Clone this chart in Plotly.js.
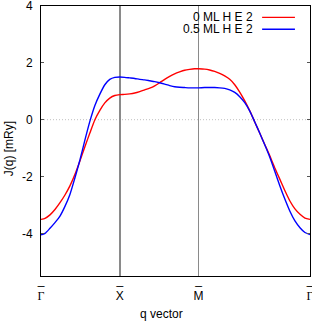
<!DOCTYPE html>
<html>
<head>
<meta charset="utf-8">
<script src="https://cdn.plot.ly/plotly-3.0.1.min.js"></script>
<style>html,body{margin:0;padding:0;background:#fff;}#chart{width:312px;height:324px;}</style>
</head>
<body>
<div id="chart"></div>
<script>
// high-symmetry points along the path
var kPoints = [0, 1, 2, 3.414];
var kLabels = ['Γ', 'X', 'M', 'Γ'];
// q path coordinate
var q = [0, 0.051, 0.114, 0.177, 0.241, 0.304, 0.367, 0.430, 0.494, 0.557, 0.620, 0.684, 0.747, 0.810, 0.873, 0.937, 1.0,
  1.063, 1.127, 1.190, 1.253, 1.316, 1.380, 1.443, 1.506, 1.570, 1.633, 1.696, 1.759, 1.823, 1.886, 1.949, 2.0,
  2.076, 2.140, 2.204, 2.268, 2.331, 2.395, 2.459, 2.522, 2.586, 2.650, 2.713, 2.777, 2.841, 2.904, 2.968, 3.032, 3.096, 3.159, 3.223, 3.287, 3.350, 3.414];
var seriesNames = ['0 ML H E 2', '0.5 ML H E 2'];
var J0 = [-3.51, -3.47, -3.35, -3.16, -2.92, -2.65, -2.33, -1.93, -1.45, -0.95, -0.47, 0.00, 0.33, 0.59, 0.76, 0.85, 0.88,
  0.89, 0.91, 0.94, 0.99, 1.05, 1.11, 1.19, 1.30, 1.42, 1.52, 1.61, 1.68, 1.74, 1.77, 1.79, 1.79,
  1.78, 1.75, 1.70, 1.63, 1.54, 1.42, 1.23, 0.97, 0.66, 0.31, -0.08, -0.48, -0.88, -1.27, -1.70, -2.10, -2.50, -2.86, -3.14, -3.33, -3.46, -3.51];
var J05 = [-4.05, -4.00, -3.82, -3.62, -3.39, -3.05, -2.63, -2.05, -1.42, -0.72, -0.06, 0.50, 0.90, 1.23, 1.42, 1.49, 1.50,
  1.49, 1.47, 1.45, 1.42, 1.40, 1.37, 1.34, 1.30, 1.25, 1.20, 1.16, 1.14, 1.13, 1.12, 1.12, 1.12,
  1.13, 1.13, 1.13, 1.12, 1.10, 1.05, 0.96, 0.81, 0.60, 0.30, -0.08, -0.48, -0.89, -1.32, -1.82, -2.33, -2.80, -3.22, -3.56, -3.80, -3.97, -4.04];
var yTicks = [-4, -2, 0, 2, 4];
var yTickText = ['-4', '-2', '0', '2', '4'];
var colors = ['#ff0000', '#0000ff'];

var font = 'Liberation Sans, Arial, sans-serif';
var traces = [J0, J05].map(function (ys, i) {
  return {x: q, y: ys, mode: 'lines', name: seriesNames[i],
    line: {color: colors[i], width: 1.4, shape: 'spline', smoothing: 0.6}, showlegend: false};
});

var tickText = kLabels.map(function (l) {
  var inner = l === 'Γ' ? '<span style="font-family:Liberation Serif, serif">' + l + '</span>' : l;
  return '_<br>' + inner;
});

var annotations = [
  {xref: 'paper', yref: 'paper', x: -0.152, y: 0.47, text: 'J(q) [mRy]', textangle: -90, showarrow: false, font: {family: font, size: 12, color: '#000'}},
  {xref: 'paper', yref: 'paper', x: 0.447, y: -0.141, yanchor: 'middle', text: 'q vector', showarrow: false, font: {family: font, size: 12, color: '#000'}}
];
var shapes = [
  {type: 'line', xref: 'paper', yref: 'y', x0: 0, x1: 1, y0: 0, y1: 0, line: {color: '#c0c0c0', width: 1, dash: '1px,2px'}, layer: 'below'}
];
// custom legend (text left of sample)
seriesNames.forEach(function (n, i) {
  annotations.push({xref: 'paper', yref: 'paper', x: 0.796, y: 0.961 - i * 0.044, xanchor: 'right', yanchor: 'middle', height: 11, text: n, showarrow: false, font: {family: font, size: 12, color: '#000'}});
  shapes.push({type: 'line', xref: 'paper', yref: 'paper', x0: 0.822, x1: 0.944, y0: 0.958 - i * 0.044, y1: 0.958 - i * 0.044, line: {color: colors[i], width: 1.4}});
});

var layout = {
  width: 312, height: 324,
  margin: {l: 41, r: 2, t: 6, b: 48},
  paper_bgcolor: '#fff', plot_bgcolor: '#fff',
  font: {family: font, size: 12, color: '#000'},
  xaxis: {range: [0, 3.414], tickvals: kPoints, ticktext: tickText, ticks: '', showgrid: true, gridcolor: '#8a8a8a', gridwidth: 1.5,
    showline: true, linecolor: '#000', linewidth: 1, mirror: true, zeroline: false, tickfont: {size: 12}, ticklabelstandoff: -7, ticklabeloverflow: 'allow'},
  yaxis: {range: [-5.5, 4], tickvals: yTicks, ticktext: yTickText, ticks: 'inside', ticklen: 3, tickcolor: '#555', mirror: 'ticks',
    showline: true, linecolor: '#000', linewidth: 1, showgrid: false, zeroline: false, ticklabelstandoff: 5, ticklabeloverflow: 'allow'},
  annotations: annotations,
  shapes: shapes,
  showlegend: false
};
Plotly.newPlot('chart', traces, layout, {staticPlot: true, displayModeBar: false});
</script>
</body>
</html>
